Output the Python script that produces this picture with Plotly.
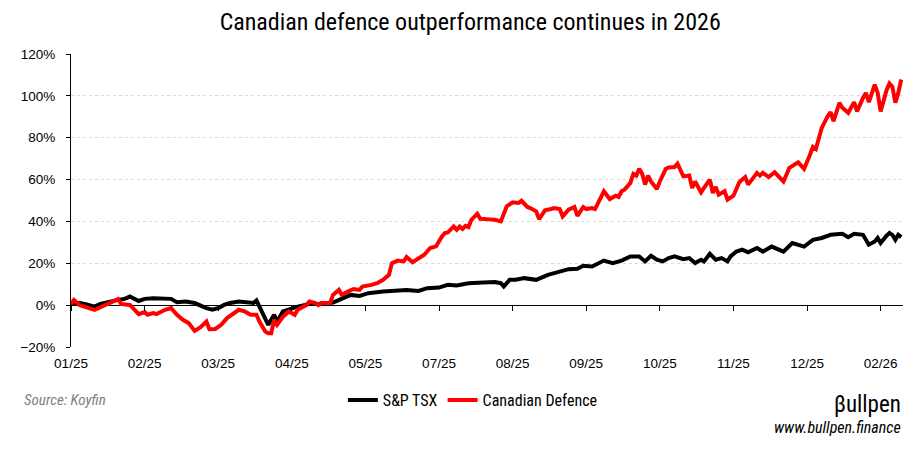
import plotly.graph_objects as go

# Trading-day index (0 = start of Jan 2025) and cumulative performance (%)
tsx_day = [0, 3, 5, 8, 10, 13, 16, 18, 20, 23, 25, 28, 32, 34, 36, 39, 42, 44, 46, 48,
           50, 52, 54, 57, 59, 62, 63, 65, 66, 67, 69, 70, 72, 74, 77, 81, 85, 89, 92, 95,
           98, 101, 106, 110, 114, 118, 121, 125, 128, 131, 135, 140, 144, 146, 147, 149, 151, 154, 158, 162,
           164, 167, 169, 172, 174, 177, 181, 184, 187, 190, 193, 195, 197, 199, 201, 203, 205, 208, 210, 212,
           214, 215, 217, 219, 221, 223, 224, 226, 228, 230, 233, 235, 238, 242, 245, 249, 252, 255, 258, 262,
           264, 266, 269, 271, 273, 274, 275, 277, 278, 279, 280, 281, 282]
tsx_val = [0.5, 1.0, 0.5, -0.7, 0.6, 1.7, 2.5, 2.9, 4.1, 2.0, 3.0, 3.3, 3.3, 3.0, 1.4, 1.7, 1.0, -0.3, -1.4, -2.2,
           -1.4, 0.1, 1.0, 1.7, 1.4, 1.0, 2.2, -3.8, -6.2, -9.4, -4.6, -7.8, -3.0, -1.9, -0.7, 0.6, 0.6, 1.2, 3.3, 4.9,
           4.4, 5.7, 6.5, 6.8, 7.2, 6.8, 8.1, 8.4, 9.7, 9.4, 10.5, 10.8, 11.0, 10.5, 8.9, 12.1, 12.1, 12.9, 12.1, 14.5,
           15.3, 16.1, 17.2, 17.4, 18.8, 18.5, 21.3, 20.1, 21.3, 23.3, 23.3, 20.9, 23.6, 21.7, 20.9, 22.5, 23.3, 22.0, 22.5, 20.1,
           21.7, 20.9, 24.5, 21.7, 22.5, 20.9, 23.3, 25.6, 26.5, 25.2, 27.3, 25.6, 28.0, 25.6, 29.7, 28.0, 31.2, 32.1, 33.6, 34.1,
           32.5, 34.1, 33.6, 28.9, 30.4, 32.1, 29.7, 33.2, 34.5, 33.6, 31.2, 33.6, 32.5]

def_day = [0, 1, 3, 5, 8, 10, 13, 16, 17, 20, 23, 25, 26, 28, 29, 32, 34, 36, 38, 40,
           42, 44, 46, 47, 49, 51, 53, 55, 57, 59, 61, 63, 64, 66, 67, 68, 69, 70, 72, 74,
           76, 77, 80, 81, 83, 84, 85, 88, 89, 91, 92, 94, 96, 98, 99, 102, 104, 106, 108, 109,
           111, 113, 114, 116, 118, 120, 122, 124, 126, 127, 128, 130, 131, 132, 133, 134, 135, 136, 138, 139,
           141, 144, 146, 148, 150, 152, 153, 155, 156, 158, 159, 161, 163, 164, 166, 167, 169, 171, 172, 174,
           175, 177, 178, 180, 181, 183, 185, 186, 187, 188, 190, 191, 192, 193, 194, 195, 196, 197, 199, 200,
           202, 203, 205, 206, 207, 208, 210, 211, 212, 214, 215, 217, 218, 219, 220, 222, 223, 225, 226, 227,
           228, 229, 230, 233, 234, 235, 237, 239, 242, 244, 247, 249, 251, 252, 253, 255, 257, 258, 259, 261,
           262, 264, 266, 267, 269, 270, 271, 273, 274, 275, 277, 278, 279, 280, 281, 282]
def_val = [0.5, 2.5, 0.0, -1.0, -2.3, -1.0, 1.0, 2.9, 0.6, 0.1, -4.3, -3.3, -4.6, -3.8, -4.3, -2.2, -1.4, -4.6, -7.0, -8.6,
           -12.3, -10.5, -7.8, -11.5, -11.4, -9.4, -6.2, -4.3, -2.2, -3.0, -4.6, -4.6, -7.8, -12.6, -13.4, -13.4, -7.0, -9.4, -5.5, -3.0,
           -4.6, -2.2, 0.1, 1.7, 1.0, 0.0, 1.0, 1.0, 4.9, 7.3, 4.9, 6.5, 7.7, 7.3, 8.9, 9.7, 10.5, 12.1, 14.5, 20.1,
           21.3, 20.9, 23.0, 20.5, 22.5, 24.1, 27.3, 28.1, 32.8, 34.4, 34.7, 37.6, 36.0, 37.6, 36.4, 37.9, 37.3, 40.8, 43.7, 41.3,
           41.1, 40.8, 40.0, 47.2, 49.1, 48.8, 49.9, 46.9, 46.4, 44.8, 41.1, 45.3, 45.9, 46.4, 45.9, 42.4, 45.6, 46.9, 42.7, 46.9,
           45.9, 46.4, 45.9, 51.2, 54.4, 50.7, 52.3, 51.7, 54.4, 55.2, 58.4, 62.7, 61.9, 65.1, 62.8, 57.6, 61.9, 59.1, 55.5, 59.1,
           65.1, 65.8, 66.0, 67.6, 64.7, 61.5, 61.9, 56.0, 59.1, 53.9, 56.0, 60.0, 53.6, 56.5, 52.8, 54.4, 50.4, 52.3, 55.5, 58.7,
           60.0, 61.2, 57.6, 63.2, 61.9, 63.2, 61.2, 63.5, 59.1, 65.6, 68.2, 65.1, 71.9, 75.6, 74.6, 84.7, 90.2, 92.2, 87.9, 96.7,
           94.3, 91.9, 97.0, 92.6, 99.0, 101.4, 97.0, 105.4, 101.4, 92.6, 102.7, 105.9, 104.3, 96.7, 101.4, 107.8]

tick_days = [0, 25, 50, 75, 100, 125, 150, 175, 200, 225, 250, 275]
tick_labels = ["01/25", "02/25", "03/25", "04/25", "05/25", "07/25", "08/25",
               "09/25", "10/25", "11/25", "12/25", "02/26"]

NARROW = "Liberation Sans Narrow, Roboto Condensed, Arial Narrow, Liberation Sans, sans-serif"
REG = "Liberation Sans, Arial, sans-serif"

fig = go.Figure()
fig.add_trace(go.Scatter(x=tsx_day, y=tsx_val, mode="lines", name="S&P TSX",
                         line=dict(color="#000000", width=4)))
fig.add_trace(go.Scatter(x=def_day, y=def_val, mode="lines", name="Canadian Defence",
                         line=dict(color="#FF0000", width=4)))
# invisible trace to carry the tick marks on the zero line
fig.add_trace(go.Scatter(x=[0], y=[0], xaxis="x2", mode="markers", marker=dict(opacity=0),
                         showlegend=False, hoverinfo="skip"))

fig.update_layout(
    width=923, height=449,
    margin=dict(l=55, r=28, t=46, b=110),
    paper_bgcolor="white", plot_bgcolor="white",
    title=dict(text="Canadian defence outperformance continues in 2026",
               x=0.4798, xref="paper", xanchor="center", y=0.969, yanchor="middle",
               font=dict(family=NARROW, size=24, color="#000000")),
    font=dict(family=REG, size=13, color="#000000"),
    xaxis=dict(range=[0, 282.6], tickmode="array", tickvals=tick_days, ticktext=tick_labels,
               showgrid=False, zeroline=False, showline=False, ticks="",
               ticklabelstandoff=6,
               tickfont=dict(family=REG, size=13.5, color="#000000")),
    xaxis2=dict(range=[0, 282.6], overlaying="x", anchor="free", position=1/7,
                tickmode="array", tickvals=tick_days, showticklabels=False,
                ticks="outside", ticklen=5, tickcolor="#000000", tickwidth=1,
                showgrid=False, zeroline=False, showline=False),
    yaxis=dict(range=[-20, 120], dtick=20, ticksuffix="%", showgrid=True,
               gridcolor="#d9d9d9", griddash="dot", gridwidth=1,
               zeroline=True, zerolinecolor="#000000", zerolinewidth=1,
               showline=True, linecolor="#000000", linewidth=1,
               ticks="outside", ticklen=4, tickcolor="#000000",
               ticklabelstandoff=8,
               tickfont=dict(family=REG, size=13.5, color="#000000")),
    legend=dict(orientation="h", x=0.483, xanchor="center", y=-0.181, yanchor="middle",
                font=dict(family=NARROW, size=16, color="#000000"), itemwidth=30,
                bgcolor="rgba(0,0,0,0)"),
    showlegend=True,
)

fig.add_annotation(text="<i>Source: Koyfin</i>", xref="paper", yref="paper",
                   x=-0.0583, y=-0.181, xanchor="left", yanchor="middle", showarrow=False,
                   font=dict(family=NARROW, size=15, color="#7f7f7f"))
fig.add_annotation(text="βullpen", xref="paper", yref="paper",
                   x=1.0, y=-0.195, xanchor="right", yanchor="middle", showarrow=False,
                   font=dict(family=NARROW, size=23, color="#000000"))
fig.add_annotation(text="<i>www.bullpen.finance</i>", xref="paper", yref="paper",
                   x=1.0, y=-0.276, xanchor="right", yanchor="middle", showarrow=False,
                   font=dict(family=NARROW, size=16, color="#000000"))

fig.write_html("out.html")
